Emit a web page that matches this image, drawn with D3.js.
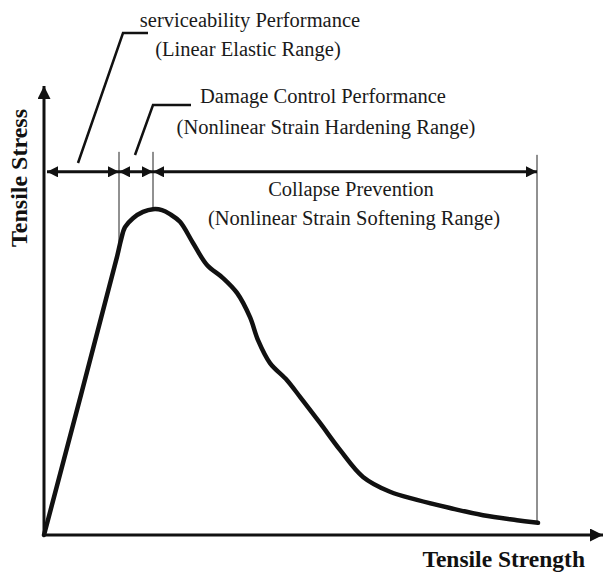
<!DOCTYPE html>
<html>
<head>
<meta charset="utf-8">
<script src="https://cdn.jsdelivr.net/npm/d3@7"></script>
<style>
  body { margin: 0; background: #fff; }
  svg { display: block; }
</style>
</head>
<body>
<svg width="603" height="572"></svg>
<script>
// curve (arbitrary units)
var strain = [0, 1.46, 1.54, 1.62, 1.78, 1.98, 2.18, 2.36, 2.52, 2.72, 2.98, 3.26, 3.58, 3.86,
  4.12, 4.28, 4.52, 4.86, 5.12, 5.52, 5.92, 6.38, 6.92, 7.46, 8.12, 8.78, 9.46, 9.88];
var stress = [0, 6.18, 6.56, 6.84, 7.04, 7.18, 7.24, 7.22, 7.13, 6.96, 6.49, 6.0, 5.71, 5.38,
  4.84, 4.33, 3.82, 3.44, 3.07, 2.49, 1.89, 1.29, 0.96, 0.78, 0.60, 0.44, 0.33, 0.27];

// performance ranges
var rangeBreaks = [0, 1.5, 2.18, 9.86];
var arrowLevel = 8.07;

var serif = "'Liberation Serif', 'DejaVu Serif', 'Times New Roman', serif";

var svg = d3.select("svg"),
  width = +svg.attr("width"),
  height = +svg.attr("height");

var x = d3.scaleLinear().domain([0, 10]).range([44, 544]);
var y = d3.scaleLinear().domain([0, 10]).range([535, 85]);

var defs = svg.append("defs");
function marker(id, w, h) {
  defs.append("marker")
    .attr("id", id)
    .attr("viewBox", "0 -5 10 10")
    .attr("refX", 10).attr("refY", 0)
    .attr("markerUnits", "userSpaceOnUse")
    .attr("markerWidth", w).attr("markerHeight", h)
    .attr("orient", "auto-start-reverse")
    .append("path")
    .attr("d", "M0,-5L10,0L0,5Z")
    .attr("fill", "#111");
}
marker("head", 13, 11);
marker("axhead", 15, 13);

// axes
svg.append("line")
  .attr("x1", x(0)).attr("y1", y(0))
  .attr("x2", 603).attr("y2", y(0))
  .attr("stroke", "#111").attr("stroke-width", 3)
  .attr("marker-end", "url(#axhead)");
svg.append("line")
  .attr("x1", x(0)).attr("y1", y(0) + 1)
  .attr("x2", x(0)).attr("y2", 86)
  .attr("stroke", "#111").attr("stroke-width", 3)
  .attr("marker-end", "url(#axhead)");

// thin boundary lines
var curve = strain.map(function(d, i) { return [d, stress[i]]; });
function stressAt(s) {
  for (var i = 1; i < curve.length; i++) {
    if (curve[i][0] >= s) {
      var t = (s - curve[i - 1][0]) / (curve[i][0] - curve[i - 1][0]);
      return curve[i - 1][1] + t * (curve[i][1] - curve[i - 1][1]);
    }
  }
  return curve[curve.length - 1][1];
}
svg.append("g").selectAll("line")
  .data(rangeBreaks.slice(1))
  .enter().append("line")
  .attr("x1", function(d) { return x(d); })
  .attr("x2", function(d) { return x(d); })
  .attr("y1", function(d, i) { return i == 2 ? y(arrowLevel) - 17 : y(arrowLevel) - 20; })
  .attr("y2", function(d) { return y(stressAt(d)); })
  .attr("stroke", "#222").attr("stroke-width", 1);

// range arrows
var segs = d3.pairs(rangeBreaks);
svg.append("g").selectAll("line")
  .data(segs)
  .enter().append("line")
  .attr("x1", function(d, i) { return i == 0 ? x(d[0]) + 3 : x(d[0]); })
  .attr("x2", function(d) { return x(d[1]); })
  .attr("y1", y(arrowLevel)).attr("y2", y(arrowLevel))
  .attr("stroke", "#111").attr("stroke-width", 3)
  .attr("marker-start", "url(#head)")
  .attr("marker-end", "url(#head)");

// stress-strain curve
svg.append("path")
  .datum(curve)
  .attr("fill", "none")
  .attr("stroke", "#111")
  .attr("stroke-width", 4.5)
  .attr("stroke-linejoin", "round")
  .attr("stroke-linecap", "round")
  .attr("d", d3.line()
    .x(function(d) { return x(d[0]); })
    .y(function(d) { return y(d[1]); })
    .curve(d3.curveCatmullRom.alpha(0.5)));

// leader lines
var leaders = [
  [[78, 163], [123, 33], [148, 33]],
  [[135, 155], [153, 105], [191, 105]]
];
svg.append("g").selectAll("path")
  .data(leaders)
  .enter().append("path")
  .attr("d", d3.line())
  .attr("fill", "none")
  .attr("stroke", "#111")
  .attr("stroke-width", 2.5);

// annotations
var notes = [
  { t: "serviceability Performance", x: 250, y: 27 },
  { t: "(Linear Elastic Range)", x: 248, y: 56 },
  { t: "Damage Control Performance", x: 323, y: 103 },
  { t: "(Nonlinear Strain Hardening Range)", x: 326, y: 134 },
  { t: "Collapse Prevention", x: 351, y: 196 },
  { t: "(Nonlinear Strain Softening Range)", x: 354, y: 225 }
];
svg.append("g").selectAll("text")
  .data(notes)
  .enter().append("text")
  .attr("x", function(d) { return d.x; })
  .attr("y", function(d) { return d.y; })
  .attr("text-anchor", "middle")
  .attr("font-family", serif)
  .attr("font-size", 20.5)
  .attr("fill", "#1a1a1a")
  .text(function(d) { return d.t; });

svg.append("text")
  .attr("x", 585).attr("y", 567)
  .attr("text-anchor", "end")
  .attr("font-family", serif)
  .attr("font-size", 23.5).attr("font-weight", "bold")
  .attr("fill", "#111")
  .text("Tensile Strength");

svg.append("text")
  .attr("transform", "translate(27,178) rotate(-90)")
  .attr("text-anchor", "middle")
  .attr("font-family", serif)
  .attr("font-size", 24).attr("font-weight", "bold")
  .attr("fill", "#111")
  .text("Tensile Stress");
</script>
</body>
</html>
